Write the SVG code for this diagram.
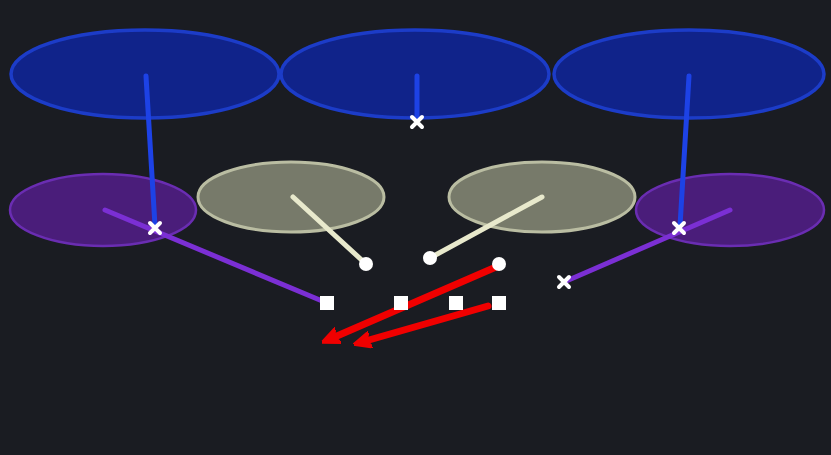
<svg xmlns="http://www.w3.org/2000/svg" width="831" height="455" viewBox="0 0 831 455">
<defs>
<style>
.blue{fill:#10238a;stroke:#1c3cc8;stroke-width:3.5}
.purple{fill:#4a1d7a;stroke:#6a2db2;stroke-width:2.5}
.grey{fill:#777a6a;stroke:#babda2;stroke-width:3}
.bl{stroke:#1d42e6;stroke-width:5;stroke-linecap:round;fill:none}
.pl{stroke:#7b2fd4;stroke-width:5;stroke-linecap:round;fill:none}
.cl{stroke:#e8e9cc;stroke-width:5;stroke-linecap:round;fill:none}
.rl{stroke:#f00000;stroke-width:7;stroke-linecap:round;fill:none}
.x{stroke:#ffffff;stroke-width:4;stroke-linecap:round}
.sq{fill:#ffffff}
.dot{fill:#ffffff}
</style>
<marker id="ah" viewBox="0 0 10 10" refX="5" refY="5" markerWidth="2.5" markerHeight="2.5" orient="auto" markerUnits="strokeWidth">
<path d="M0,0.5 L10,5 L0,9.5 L2.5,5 Z" fill="#f00000" stroke="#f00000" stroke-width="1.5" stroke-linejoin="round"/>
</marker>
</defs>
<rect width="831" height="455" fill="#1a1c22"/>
<g id="zone-blue-left"><ellipse class="blue" cx="145" cy="74" rx="134" ry="44"/></g>
<g id="zone-blue-mid"><ellipse class="blue" cx="415" cy="74" rx="134" ry="44"/></g>
<g id="zone-blue-right"><ellipse class="blue" cx="689" cy="74" rx="135" ry="44"/></g>
<g id="zone-purple-left"><ellipse class="purple" cx="103" cy="210" rx="93" ry="36"/></g>
<g id="zone-purple-right"><ellipse class="purple" cx="730" cy="210" rx="94" ry="36"/></g>
<g id="zone-grey-left"><ellipse class="grey" cx="291" cy="197" rx="93" ry="35"/></g>
<g id="zone-grey-right"><ellipse class="grey" cx="542" cy="197" rx="93" ry="35"/></g>
<g id="connectors">
<line class="bl" x1="146" y1="76" x2="155" y2="226"/>
<line class="bl" x1="417" y1="76" x2="417" y2="120"/>
<line class="bl" x1="689" y1="76" x2="680" y2="226"/>
<line class="pl" x1="105" y1="210" x2="327" y2="303"/>
<line class="pl" x1="730" y1="210" x2="564" y2="282"/>
<line class="cl" x1="293" y1="197" x2="366" y2="264"/>
<line class="cl" x1="542" y1="197" x2="430" y2="258"/>
<line class="rl" x1="496" y1="267" x2="330" y2="339" marker-end="url(#ah)"/>
<line class="rl" x1="488" y1="306" x2="362" y2="342" marker-end="url(#ah)"/>
</g>
<g id="defender-1"><path class="x" d="M150,223 L160,233 M160,223 L150,233"/></g>
<g id="defender-2"><path class="x" d="M412,117 L422,127 M422,117 L412,127"/></g>
<g id="defender-3"><path class="x" d="M674,223 L684,233 M684,223 L674,233"/></g>
<g id="defender-4"><path class="x" d="M559,277 L569,287 M569,277 L559,287"/></g>
<g id="receiver-1"><circle class="dot" cx="366" cy="264" r="7"/></g>
<g id="receiver-2"><circle class="dot" cx="430" cy="258" r="7"/></g>
<g id="receiver-3"><circle class="dot" cx="499" cy="264" r="7"/></g>
<g id="lineman-1"><rect class="sq" x="320" y="296" width="14" height="14"/></g>
<g id="lineman-2"><rect class="sq" x="394" y="296" width="14" height="14"/></g>
<g id="lineman-3"><rect class="sq" x="449" y="296" width="14" height="14"/></g>
<g id="lineman-4"><rect class="sq" x="492" y="296" width="14" height="14"/></g>
</svg>
